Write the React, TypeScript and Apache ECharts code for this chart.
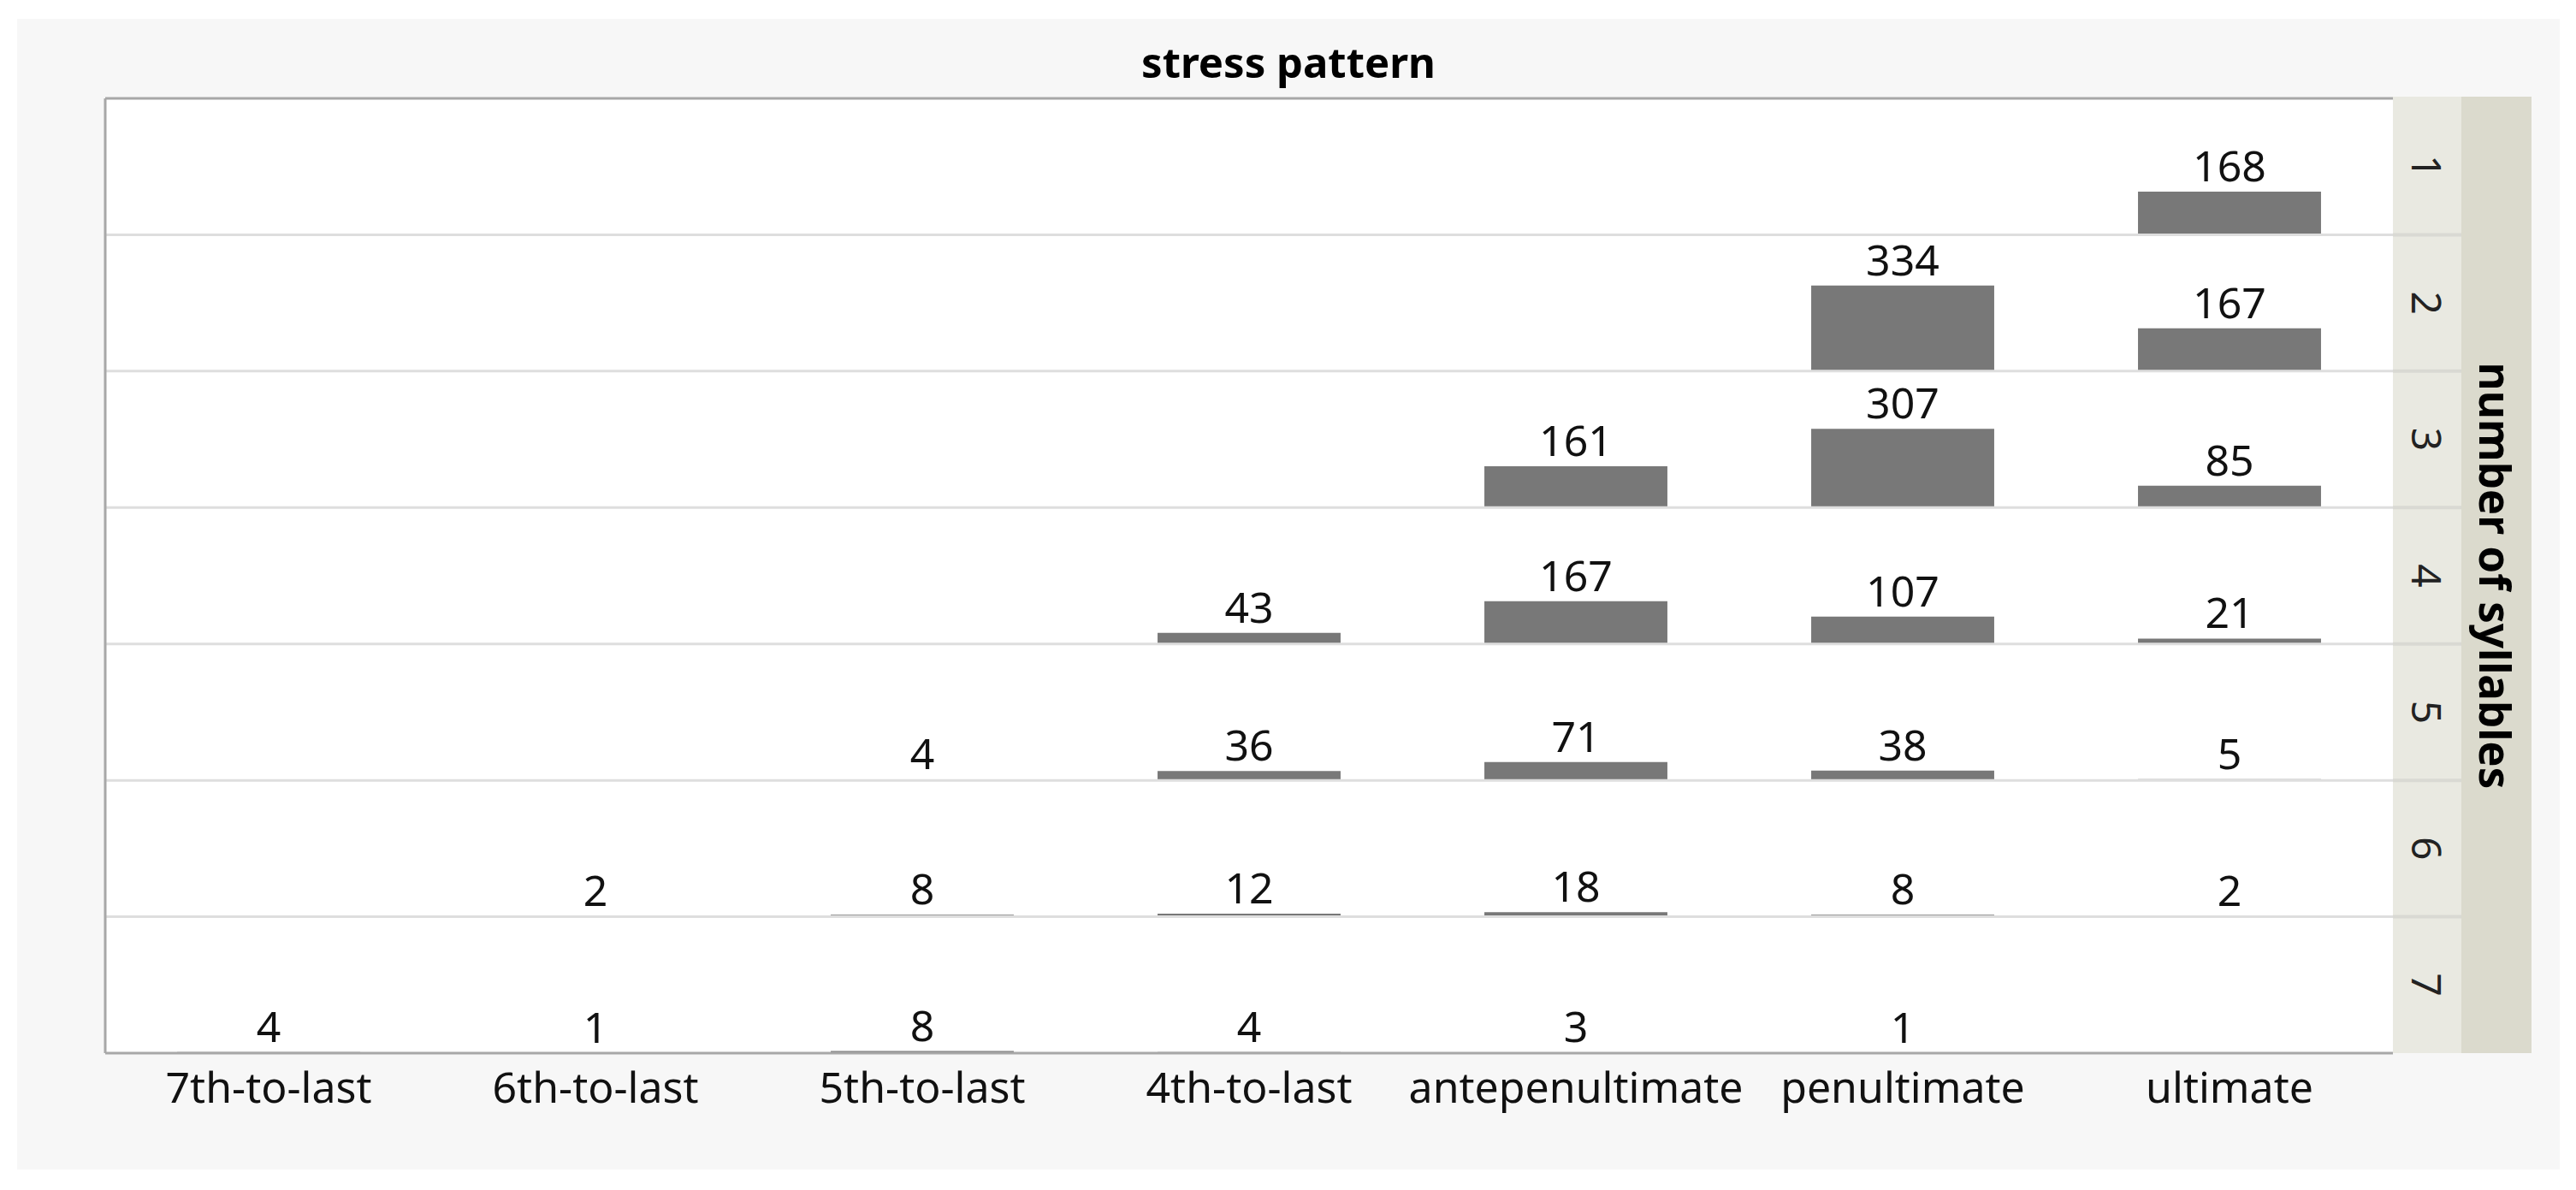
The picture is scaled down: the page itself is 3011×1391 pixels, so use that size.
import React, { useEffect, useRef } from "react";
import * as echarts from "echarts";

const stressPatterns = [
  "7th-to-last",
  "6th-to-last",
  "5th-to-last",
  "4th-to-last",
  "antepenultimate",
  "penultimate",
  "ultimate",
];

const syllableCounts = ["1", "2", "3", "4", "5", "6", "7"];

// values per row (number of syllables), columns follow stressPatterns
const row1 = [null, null, null, null, null, null, 168];
const row2 = [null, null, null, null, null, 334, 167];
const row3 = [null, null, null, null, 161, 307, 85];
const row4 = [null, null, null, 43, 167, 107, 21];
const row5 = [null, null, 4, 36, 71, 38, 5];
const row6 = [null, 2, 8, 12, 18, 8, 2];
const row7 = [4, 1, 8, 4, 3, 1, null];

const rows = [row1, row2, row3, row4, row5, row6, row7];

const titleText = "stress pattern";
const rowTitleText = "number of syllables";
const yMax = 532;

const W = 3011;
const H = 1391;
const FONT = "'Noto Sans', 'Open Sans', sans-serif";

export default function App() {
  const ref = useRef<HTMLDivElement>(null);

  useEffect(() => {
    if (!ref.current) return;
    const chart = echarts.init(ref.current, null, { renderer: "svg" });

    const plotL = 123;
    const plotR = 2797;
    const plotT = 115;
    const plotB = 1231;
    const rowH = (plotB - plotT) / rows.length;
    const strip1R = 2877;
    const strip2R = 2959;

    const grids = rows.map((_, i) => ({
      left: plotL,
      width: plotR - plotL,
      top: plotT + i * rowH,
      height: rowH,
      containLabel: false,
    }));

    const xAxes = rows.map((_, i) => ({
      type: "category" as const,
      gridIndex: i,
      data: stressPatterns,
      axisLine: { show: false },
      axisTick: { show: false },
      splitLine: { show: false },
      axisLabel: {
        show: i === rows.length - 1,
        interval: 0,
        fontSize: 50,
        fontFamily: FONT,
        color: "#111",
        margin: 14,
      },
    }));

    const yAxes = rows.map((_, i) => ({
      type: "value" as const,
      gridIndex: i,
      min: 0,
      max: yMax,
      show: false,
      splitLine: { show: false },
    }));

    const series = rows.map((r, i) => ({
      type: "bar" as const,
      xAxisIndex: i,
      yAxisIndex: i,
      data: r.map((v) => (v === null ? "-" : v)),
      barWidth: "56%",
      itemStyle: { color: "#787878" },
      label: {
        show: true,
        position: "top" as const,
        distance: 6,
        fontSize: 50,
        fontFamily: FONT,
        color: "#111",
      },
    }));

    const graphics: any[] = [];
    graphics.push({
      type: "rect",
      z: -10,
      shape: { x: 20, y: 22, width: 2972, height: 1345 },
      style: { fill: "#f7f7f7" },
      silent: true,
    });
    graphics.push({
      type: "rect",
      z: -9,
      shape: { x: plotL, y: plotT, width: plotR - plotL, height: plotB - plotT },
      style: { fill: "#ffffff" },
      silent: true,
    });
    for (let k = 1; k < rows.length; k++) {
      const y = plotT + k * rowH;
      graphics.push({
        type: "line",
        z: 5,
        shape: { x1: plotL, y1: y, x2: plotR, y2: y },
        style: { stroke: "#dedede", lineWidth: 3 },
        silent: true,
      });
    }
    graphics.push({
      type: "line",
      z: 6,
      shape: { x1: plotL, y1: plotT, x2: plotR, y2: plotT },
      style: { stroke: "#a8a8a8", lineWidth: 3 },
      silent: true,
    });
    graphics.push({
      type: "line",
      z: 6,
      shape: { x1: plotL, y1: plotT, x2: plotL, y2: plotB },
      style: { stroke: "#a8a8a8", lineWidth: 3 },
      silent: true,
    });
    graphics.push({
      type: "line",
      z: 6,
      shape: { x1: plotL, y1: plotB, x2: plotR, y2: plotB },
      style: { stroke: "#a8a8a8", lineWidth: 3 },
      silent: true,
    });
    graphics.push({
      type: "rect",
      z: 1,
      shape: { x: plotR, y: plotT - 2, width: strip1R - plotR, height: plotB - plotT + 2 },
      style: { fill: "#e9e9e1" },
      silent: true,
    });
    for (let k = 1; k < rows.length; k++) {
      const y = plotT + k * rowH;
      graphics.push({
        type: "line",
        z: 2,
        shape: { x1: plotR, y1: y, x2: strip1R, y2: y },
        style: { stroke: "#d9d9d3", lineWidth: 4 },
        silent: true,
      });
    }
    graphics.push({
      type: "rect",
      z: 1,
      shape: { x: strip1R, y: plotT - 2, width: strip2R - strip1R, height: plotB - plotT + 2 },
      style: { fill: "#dbdacd" },
      silent: true,
    });
    syllableCounts.forEach((s, i) => {
      graphics.push({
        type: "text",
        z: 3,
        x: (plotR + strip1R) / 2,
        y: plotT + (i + 0.5) * rowH,
        rotation: -Math.PI / 2,
        style: {
          text: s,
          fontSize: 48,
          fontFamily: FONT,
          fill: "#222",
          textAlign: "center",
          textVerticalAlign: "middle",
        },
        silent: true,
      });
    });
    graphics.push({
      type: "text",
      z: 3,
      x: (strip1R + strip2R) / 2,
      y: (plotT + plotB) / 2,
      rotation: -Math.PI / 2,
      style: {
        text: rowTitleText,
        fontSize: 51,
        fontWeight: "bold",
        fontFamily: FONT,
        fill: "#000",
        textAlign: "center",
        textVerticalAlign: "middle",
      },
      silent: true,
    });
    graphics.push({
      type: "text",
      z: 3,
      x: 1506,
      y: 72,
      style: {
        text: titleText,
        fontSize: 49,
        fontWeight: "bold",
        fontFamily: FONT,
        fill: "#000",
        textAlign: "center",
        textVerticalAlign: "middle",
      },
      silent: true,
    });

    chart.setOption({
      animation: false,
      backgroundColor: "#ffffff",
      textStyle: { fontFamily: FONT },
      grid: grids,
      xAxis: xAxes,
      yAxis: yAxes,
      series,
      graphic: { elements: graphics },
    });

    return () => chart.dispose();
  }, []);

  return (
    <div
      ref={ref}
      style={{ position: "absolute", left: 0, top: 0, width: W, height: H }}
    />
  );
}
